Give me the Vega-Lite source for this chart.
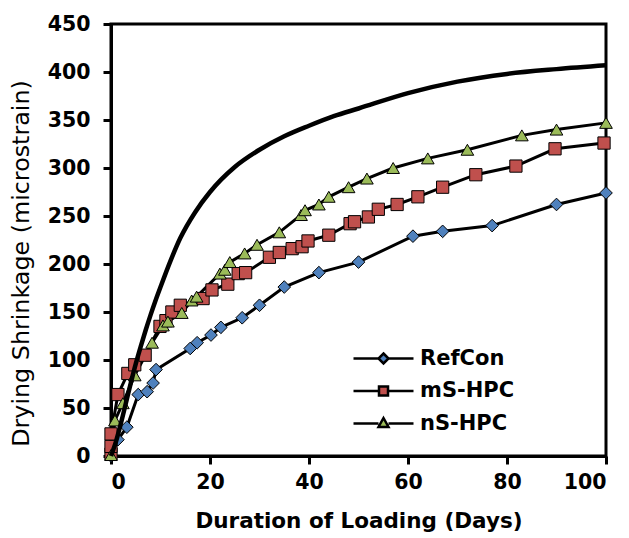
{
  "$schema": "https://vega.github.io/schema/vega-lite/v6.json",
  "width": 495,
  "height": 432,
  "autosize": {"type": "none"},
  "padding": {"left": 111, "top": 24, "right": 23, "bottom": 82},
  "background": "white",
  "config": {
    "view": {"stroke": "black", "strokeWidth": 3},
    "axis": {
      "grid": false,
      "domainColor": "black",
      "domainWidth": 3,
      "tickColor": "black",
      "tickWidth": 3,
      "tickSize": 8,
      "labelFont": "DejaVu Sans",
      "labelFontWeight": "bold",
      "labelFontSize": 20.5,
      "labelColor": "black",
      "titleColor": "black",
      "titleFont": "DejaVu Sans"
    }
  },
  "data": {
    "values": [
      {"series": "RefCon", "day": 0, "value": 0},
      {"series": "RefCon", "day": 1.4, "value": 17},
      {"series": "RefCon", "day": 3.2, "value": 30},
      {"series": "RefCon", "day": 5.5, "value": 64},
      {"series": "RefCon", "day": 7.3, "value": 67},
      {"series": "RefCon", "day": 8.5, "value": 76},
      {"series": "RefCon", "day": 9.1, "value": 90},
      {"series": "RefCon", "day": 16, "value": 112},
      {"series": "RefCon", "day": 17.4, "value": 118},
      {"series": "RefCon", "day": 20.2, "value": 126},
      {"series": "RefCon", "day": 22.2, "value": 134},
      {"series": "RefCon", "day": 26.5, "value": 144},
      {"series": "RefCon", "day": 30, "value": 157},
      {"series": "RefCon", "day": 35, "value": 176},
      {"series": "RefCon", "day": 42, "value": 191},
      {"series": "RefCon", "day": 50, "value": 202},
      {"series": "RefCon", "day": 61, "value": 229},
      {"series": "RefCon", "day": 67, "value": 234},
      {"series": "RefCon", "day": 77, "value": 240},
      {"series": "RefCon", "day": 90, "value": 262},
      {"series": "RefCon", "day": 100, "value": 274},
      {"series": "mS-HPC", "day": 0, "value": 2},
      {"series": "mS-HPC", "day": 0, "value": 10},
      {"series": "mS-HPC", "day": 0, "value": 23},
      {"series": "mS-HPC", "day": 1.4, "value": 64},
      {"series": "mS-HPC", "day": 3.4, "value": 86},
      {"series": "mS-HPC", "day": 4.8, "value": 95},
      {"series": "mS-HPC", "day": 6.9, "value": 105},
      {"series": "mS-HPC", "day": 9.9, "value": 135},
      {"series": "mS-HPC", "day": 11.1, "value": 141},
      {"series": "mS-HPC", "day": 12.3, "value": 150},
      {"series": "mS-HPC", "day": 14, "value": 157},
      {"series": "mS-HPC", "day": 18.6, "value": 164},
      {"series": "mS-HPC", "day": 20.4, "value": 173},
      {"series": "mS-HPC", "day": 23.6, "value": 179},
      {"series": "mS-HPC", "day": 25.7, "value": 190},
      {"series": "mS-HPC", "day": 27.2, "value": 191},
      {"series": "mS-HPC", "day": 32, "value": 207},
      {"series": "mS-HPC", "day": 34, "value": 212},
      {"series": "mS-HPC", "day": 36.6, "value": 216},
      {"series": "mS-HPC", "day": 38.6, "value": 218},
      {"series": "mS-HPC", "day": 39.8, "value": 224},
      {"series": "mS-HPC", "day": 44, "value": 230},
      {"series": "mS-HPC", "day": 48.3, "value": 242},
      {"series": "mS-HPC", "day": 49.2, "value": 244},
      {"series": "mS-HPC", "day": 52, "value": 249},
      {"series": "mS-HPC", "day": 54, "value": 257},
      {"series": "mS-HPC", "day": 57.8, "value": 262},
      {"series": "mS-HPC", "day": 62, "value": 270},
      {"series": "mS-HPC", "day": 67, "value": 280},
      {"series": "mS-HPC", "day": 73.7, "value": 293},
      {"series": "mS-HPC", "day": 81.8, "value": 302},
      {"series": "mS-HPC", "day": 89.7, "value": 320},
      {"series": "mS-HPC", "day": 99.6, "value": 326},
      {"series": "nS-HPC", "day": 0, "value": 1},
      {"series": "nS-HPC", "day": 0.8, "value": 37},
      {"series": "nS-HPC", "day": 2.4, "value": 55},
      {"series": "nS-HPC", "day": 4.8, "value": 84},
      {"series": "nS-HPC", "day": 8.3, "value": 118},
      {"series": "nS-HPC", "day": 10.5, "value": 136},
      {"series": "nS-HPC", "day": 11.5, "value": 140},
      {"series": "nS-HPC", "day": 14.3, "value": 149},
      {"series": "nS-HPC", "day": 16.3, "value": 162},
      {"series": "nS-HPC", "day": 17.3, "value": 166},
      {"series": "nS-HPC", "day": 22, "value": 190},
      {"series": "nS-HPC", "day": 23, "value": 194},
      {"series": "nS-HPC", "day": 24, "value": 202},
      {"series": "nS-HPC", "day": 27, "value": 211},
      {"series": "nS-HPC", "day": 29.5, "value": 220},
      {"series": "nS-HPC", "day": 34, "value": 233},
      {"series": "nS-HPC", "day": 38.4, "value": 251},
      {"series": "nS-HPC", "day": 39.2, "value": 256},
      {"series": "nS-HPC", "day": 42, "value": 262},
      {"series": "nS-HPC", "day": 44, "value": 270},
      {"series": "nS-HPC", "day": 48, "value": 280},
      {"series": "nS-HPC", "day": 51.7, "value": 289},
      {"series": "nS-HPC", "day": 57, "value": 300},
      {"series": "nS-HPC", "day": 64, "value": 310},
      {"series": "nS-HPC", "day": 72, "value": 319},
      {"series": "nS-HPC", "day": 83, "value": 334},
      {"series": "nS-HPC", "day": 90, "value": 340},
      {"series": "nS-HPC", "day": 100, "value": 347},
      {"series": "Model", "day": 0, "value": 0},
      {"series": "Model", "day": 1, "value": 15},
      {"series": "Model", "day": 2, "value": 34},
      {"series": "Model", "day": 3, "value": 55},
      {"series": "Model", "day": 4, "value": 76},
      {"series": "Model", "day": 5, "value": 96},
      {"series": "Model", "day": 6, "value": 114},
      {"series": "Model", "day": 7, "value": 131},
      {"series": "Model", "day": 8, "value": 147},
      {"series": "Model", "day": 9, "value": 162},
      {"series": "Model", "day": 10, "value": 176},
      {"series": "Model", "day": 12, "value": 203},
      {"series": "Model", "day": 14, "value": 227},
      {"series": "Model", "day": 17, "value": 254},
      {"series": "Model", "day": 20, "value": 275},
      {"series": "Model", "day": 25, "value": 301},
      {"series": "Model", "day": 30, "value": 319},
      {"series": "Model", "day": 35, "value": 333},
      {"series": "Model", "day": 40, "value": 344},
      {"series": "Model", "day": 45, "value": 354},
      {"series": "Model", "day": 50, "value": 362},
      {"series": "Model", "day": 60, "value": 378},
      {"series": "Model", "day": 70, "value": 390},
      {"series": "Model", "day": 80, "value": 398},
      {"series": "Model", "day": 90, "value": 403},
      {"series": "Model", "day": 100, "value": 407}
    ]
  },
  "encoding": {
    "x": {
      "field": "day",
      "type": "quantitative",
      "scale": {"domain": [0, 100], "nice": false},
      "axis": {
        "values": [0, 20, 40, 60, 80, 100],
        "labelPadding": 8,
        "title": "Duration of Loading (Days)",
        "titleFontSize": 21.5,
        "titleFontWeight": "bold",
        "titlePadding": 18
      }
    },
    "y": {
      "field": "value",
      "type": "quantitative",
      "scale": {"domain": [0, 450], "nice": false},
      "axis": {
        "values": [0, 50, 100, 150, 200, 250, 300, 350, 400, 450],
        "labelPadding": 13,
        "title": "Drying Shrinkage (microstrain)",
        "titleFontSize": 23.8,
        "titleFontWeight": "normal",
        "titlePadding": 14,
        "titleY": 239
      }
    }
  },
  "layer": [
    {
      "transform": [{"filter": "datum.series !== 'Model'"}],
      "mark": {"type": "line", "stroke": "black", "strokeWidth": 3},
      "encoding": {"detail": {"field": "series"}}
    },
    {
      "transform": [{"filter": "datum.series === 'RefCon'"}],
      "mark": {"type": "point", "shape": "diamond", "filled": true, "size": 160, "stroke": "black", "strokeWidth": 1, "opacity": 1},
      "encoding": {
        "fill": {
          "field": "series",
          "type": "nominal",
          "scale": {"domain": ["RefCon", "mS-HPC", "nS-HPC"], "range": ["#4f81bd", "#c0504d", "#9bbb59"]},
          "legend": {
            "orient": "none",
            "legendX": 262,
            "legendY": 324,
            "title": null,
            "padding": 0,
            "labelFont": "DejaVu Sans",
            "labelFontWeight": "bold",
            "labelFontSize": 21,
            "labelColor": "black",
            "labelOffset": 26,
            "rowPadding": 10.5,
            "symbolSize": 100,
            "symbolStrokeColor": "black",
            "symbolStrokeWidth": 2.5,
            "symbolOpacity": 1,
            "symbolType": {"expr": "datum.value === 'RefCon' ? 'M-6,0H-1M1,0H6M0,-1L1,0L0,1L-1,0Z' : datum.value === 'mS-HPC' ? 'M-6,0H-0.9M0.9,0H6M-0.9,-0.9H0.9V0.9H-0.9Z' : 'M-6,0H-1M1,0H6M0,-1.1L1,0.7L-1,0.7Z'"}
          }
        }
      }
    },
    {
      "transform": [{"filter": "datum.series === 'mS-HPC'"}],
      "mark": {"type": "point", "shape": "square", "filled": true, "size": 150, "stroke": "black", "strokeWidth": 1, "opacity": 1},
      "encoding": {
        "fill": {"field": "series", "type": "nominal"}
      }
    },
    {
      "transform": [{"filter": "datum.series === 'nS-HPC'"}],
      "mark": {"type": "point", "shape": "triangle-up", "filled": true, "size": 160, "stroke": "black", "strokeWidth": 1, "opacity": 1},
      "encoding": {
        "fill": {"field": "series", "type": "nominal"}
      }
    },
    {
      "transform": [{"filter": "datum.series === 'Model'"}],
      "mark": {"type": "line", "stroke": "black", "strokeWidth": 4.5, "interpolate": "monotone"},
      "encoding": {}
    }
  ]
}
